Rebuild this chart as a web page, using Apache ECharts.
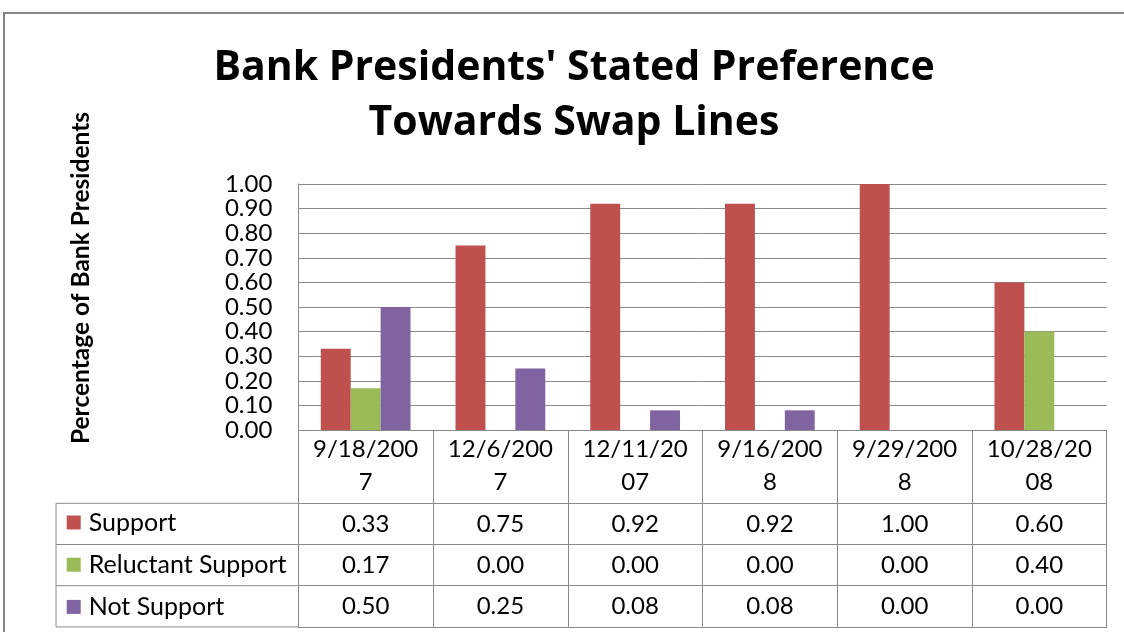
<!DOCTYPE html>
<html>
<head>
<meta charset="utf-8">
<script src="https://cdn.jsdelivr.net/npm/echarts@6/dist/echarts.min.js"></script>
<style>
html,body{margin:0;padding:0;background:#fff;}
#chart{width:1124px;height:632px;}
</style>
</head>
<body>
<div id="chart"></div>
<script>
// ---- data ----
const categories = ['9/18/2007', '12/6/2007', '12/11/2007', '9/16/2008', '9/29/2008', '10/28/2008'];
const seriesNames = ['Support', 'Reluctant Support', 'Not Support'];
const support = [0.33, 0.75, 0.92, 0.92, 1.00, 0.60];
const reluctantSupport = [0.17, 0.00, 0.00, 0.00, 0.00, 0.40];
const notSupport = [0.50, 0.25, 0.08, 0.08, 0.00, 0.00];
const titleLines = ["Bank Presidents' Stated Preference", 'Towards Swap Lines'];
const yAxisTitle = 'Percentage of Bank Presidents';

// ---- styling / layout ----
const FONT = 'Lato, "Open Sans", "Liberation Sans", sans-serif';
const TITLE_FONT = '"Open Sans", Lato, "Liberation Sans", sans-serif';
const colors = ['#C0504D', '#9BBB59', '#8064A2'];
const lineColor = '#8a8a8a';
const gridLeft = 298.3, gridRight = 1106.7, gridTop = 184, gridBottom = 430;
const headerH = 73.3, rowH = 41.2;
const tableLeft = 56;
const valueRows = [support, reluctantSupport, notSupport];

const chart = echarts.init(document.getElementById('chart'));

function wrapDate(s) { return s.length > 8 ? s.slice(0, 8) + '\n' + s.slice(8) : s; }

const xAxes = [{
  type: 'category', gridIndex: 0, position: 'bottom', data: categories,
  axisLine: { show: true, lineStyle: { color: lineColor, width: 1 } },
  axisTick: { show: true, interval: 0, length: headerH, lineStyle: { color: lineColor } },
  axisLabel: { interval: 0, margin: 3, fontFamily: FONT, fontSize: 24, lineHeight: 33, color: '#000',
               formatter: function (v) { return wrapDate(v); } },
  splitLine: { show: false }
}];
valueRows.forEach(function (row, r) {
  xAxes.push({
    type: 'category', gridIndex: 0, position: 'bottom', offset: headerH + rowH * r, data: categories,
    axisLine: { show: true, lineStyle: { color: lineColor, width: 1 } },
    axisTick: { show: true, interval: 0, length: rowH, lineStyle: { color: lineColor } },
    axisLabel: { interval: 0, margin: 9, fontFamily: FONT, fontSize: 24, lineHeight: 24, color: '#000',
                 formatter: function (v, i) { return row[i].toFixed(2); } },
    splitLine: { show: false }
  });
});
xAxes.push({
  type: 'category', gridIndex: 0, position: 'bottom', offset: headerH + rowH * 3, data: categories,
  axisLine: { show: true, lineStyle: { color: lineColor, width: 1 } },
  axisTick: { show: false }, axisLabel: { show: false }, splitLine: { show: false }
});

const seriesData = [support, reluctantSupport, notSupport];
const option = {
  backgroundColor: '#fff',
  animation: false,
  color: colors,
  title: {
    text: titleLines.join('\n'),
    left: 569, top: 36, textAlign: 'center',
    textStyle: { fontFamily: TITLE_FONT, fontWeight: 'bold', fontSize: 41, lineHeight: 55, color: '#000' }
  },
  legend: {
    orient: 'vertical', left: 66.7, top: 510, padding: 0,
    itemWidth: 14, itemHeight: 14, itemGap: rowH - 24, icon: 'rect',
    selectedMode: false,
    data: seriesNames,
    textStyle: { fontFamily: FONT, fontSize: 25, lineHeight: 24, color: '#000', padding: [0, 0, 0, 3] }
  },
  grid: { left: gridLeft, right: 1124 - gridRight, top: gridTop, bottom: 632 - gridBottom, containLabel: false, outerBoundsMode: 'none' },
  xAxis: xAxes,
  yAxis: {
    type: 'value', min: 0, max: 1, interval: 0.1,
    axisLine: { show: true, lineStyle: { color: lineColor, width: 1 } },
    axisTick: { show: false },
    axisLabel: { margin: 26, fontFamily: FONT, fontSize: 24, color: '#000',
                 formatter: function (v) { return v.toFixed(2); } },
    splitLine: { show: true, lineStyle: { color: lineColor, width: 1 } }
  },
  series: seriesNames.map(function (name, i) {
    return {
      name: name, type: 'bar', xAxisIndex: 0, yAxisIndex: 0,
      data: seriesData[i], barGap: '0%', barCategoryGap: '33.4%',
      itemStyle: { color: colors[i] }
    };
  }),
  graphic: [
    { type: 'rect', shape: { x: 4, y: 13, width: 1300, height: 800 }, style: { fill: null, stroke: '#858585', lineWidth: 2 }, silent: true },
    { type: 'text', x: 81, y: 278, rotation: Math.PI / 2,
      style: { text: yAxisTitle, align: 'center', verticalAlign: 'middle', fill: '#000',
               font: 'bold 24.5px ' + FONT } },
    { type: 'polyline', shape: { points: [[gridLeft, gridBottom + headerH], [tableLeft, gridBottom + headerH], [tableLeft, gridBottom + headerH + rowH * 3], [gridLeft, gridBottom + headerH + rowH * 3]] },
      style: { stroke: lineColor, lineWidth: 1, fill: null } },
    { type: 'line', shape: { x1: tableLeft, y1: gridBottom + headerH + rowH, x2: gridLeft, y2: gridBottom + headerH + rowH }, style: { stroke: lineColor, lineWidth: 1 } },
    { type: 'line', shape: { x1: tableLeft, y1: gridBottom + headerH + rowH * 2, x2: gridLeft, y2: gridBottom + headerH + rowH * 2 }, style: { stroke: lineColor, lineWidth: 1 } }
  ]
};
chart.setOption(option);
</script>
</body>
</html>
